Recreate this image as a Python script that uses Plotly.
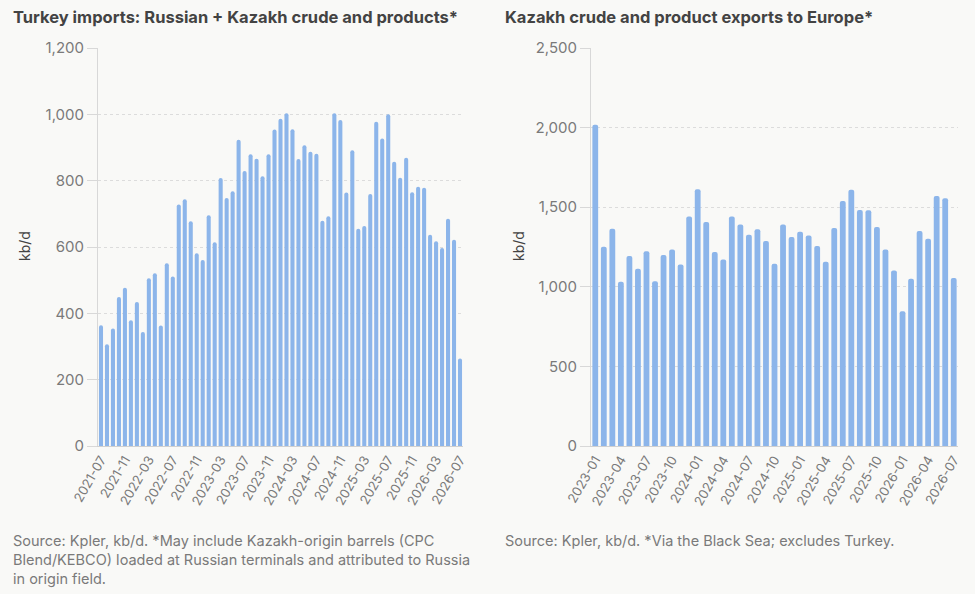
import plotly.graph_objects as go

# ---- Data ----
left_months = []
for y in range(2021, 2027):
    for m in range(1, 13):
        if (y, m) < (2021, 7) or (y, m) > (2026, 7):
            continue
        left_months.append(f"{y}-{m:02d}")

left_values = [364, 307, 354, 449, 477, 379,
               434, 344, 506, 521, 363, 551, 511, 728, 744, 678, 581, 561,
               696, 614, 808, 748, 768, 923, 829, 880, 866, 813, 880, 954,
               987, 1003, 955, 865, 907, 887, 881, 679, 693, 1003, 983, 764,
               892, 655, 663, 760, 978, 927, 1000, 857, 809, 869, 765, 782,
               779, 637, 617, 597, 685, 622, 264]

right_months = []
for y in range(2023, 2027):
    for m in range(1, 13):
        if (y, m) > (2026, 7):
            continue
        right_months.append(f"{y}-{m:02d}")

right_values = [2018, 1252, 1365, 1031, 1193, 1113, 1224, 1035, 1199, 1235, 1140, 1441,
                1613, 1407, 1218, 1172, 1441, 1392, 1327, 1361, 1287, 1145, 1392, 1313,
                1346, 1323, 1256, 1157, 1369, 1539, 1609, 1483, 1481, 1376, 1235, 1103,
                846, 1050, 1350, 1302, 1571, 1556, 1056]

left_ticks = left_months[::4]
right_ticks = right_months[::3]

left_title = "Turkey imports: Russian + Kazakh crude and products*"
right_title = "Kazakh crude and product exports to Europe*"
left_note = ("Source: Kpler, kb/d. *May include Kazakh-origin barrels (CPC<br>"
             "Blend/KEBCO) loaded at Russian terminals and attributed to Russia<br>"
             "in origin field.")
right_note = "Source: Kpler, kb/d. *Via the Black Sea; excludes Turkey."

# ---- Style ----
W, H = 975, 594
BG = "#f9f9f7"
BAR = "#8cb5ea"
FONT = "Inter, Open Sans, sans-serif"
TXT = "#434343"
TICK = "#7a7a7a"

fig = go.Figure()
fig.add_trace(go.Bar(x=left_months, y=left_values, marker_color=BAR,
                     marker_line_width=0, xaxis="x", yaxis="y"))
fig.add_trace(go.Bar(x=right_months, y=right_values, marker_color=BAR,
                     marker_line_width=0, xaxis="x2", yaxis="y2"))

ydom = [1 - 446 / H, 1 - 48 / H]
common_x = dict(type="category", tickangle=-60, showgrid=False, automargin=False,
                showline=True, linecolor="#d0d0d0", linewidth=1,
                ticks="", tickfont=dict(size=13, color=TICK, family=FONT))
common_y = dict(showgrid=True, gridcolor="#dcdcdc", griddash="dot", automargin=False,
                showline=True, linecolor="#d8d8d8", linewidth=1,
                ticks="outside", ticklen=10, tickcolor="#d8d8d8",
                tickformat=",d", zeroline=False,
                tickfont=dict(size=15, color=TICK, family=FONT))

fig.update_layout(
    width=W, height=H,
    margin=dict(l=0, r=0, t=0, b=0, autoexpand=False),
    paper_bgcolor=BG, plot_bgcolor=BG,
    showlegend=False, bargap=0.32,
    barcornerradius=2,
    font=dict(family=FONT, color=TXT),
    xaxis=dict(domain=[98 / W, 463 / W], anchor="y",
               tickvals=left_ticks, ticktext=left_ticks, **common_x),
    yaxis=dict(domain=ydom, anchor="x", range=[0, 1200], dtick=200, **common_y),
    xaxis2=dict(domain=[591 / W, 958 / W], anchor="y2",
                tickvals=right_ticks, ticktext=right_ticks, **common_x),
    yaxis2=dict(domain=ydom, anchor="x2", range=[0, 2500], dtick=500, **common_y),
)

ann = [
    dict(text=f"<b>{left_title}</b>", x=11 / W, y=1 - 17 / H, xanchor="left",
         yanchor="middle", font=dict(size=16.5, color=TXT, family=FONT)),
    dict(text=f"<b>{right_title}</b>", x=503 / W, y=1 - 17 / H, xanchor="left",
         yanchor="middle", font=dict(size=16.5, color=TXT, family=FONT)),
    dict(text="kb/d", x=24 / W, y=1 - 246 / H, textangle=-90, xanchor="center",
         yanchor="middle", font=dict(size=14, color=TXT, family=FONT)),
    dict(text="kb/d", x=518 / W, y=1 - 246 / H, textangle=-90, xanchor="center",
         yanchor="middle", font=dict(size=14, color=TXT, family=FONT)),
    dict(text=left_note, x=11 / W, y=1 - 530 / H, xanchor="left", yanchor="top",
         align="left", font=dict(size=14.5, color="#7a7a7a", family=FONT)),
    dict(text=right_note, x=503 / W, y=1 - 530 / H, xanchor="left", yanchor="top",
         align="left", font=dict(size=14.5, color="#7a7a7a", family=FONT)),
]
for a in ann:
    a.update(xref="paper", yref="paper", showarrow=False)
fig.update_layout(annotations=ann)

fig.write_html("out.html")
